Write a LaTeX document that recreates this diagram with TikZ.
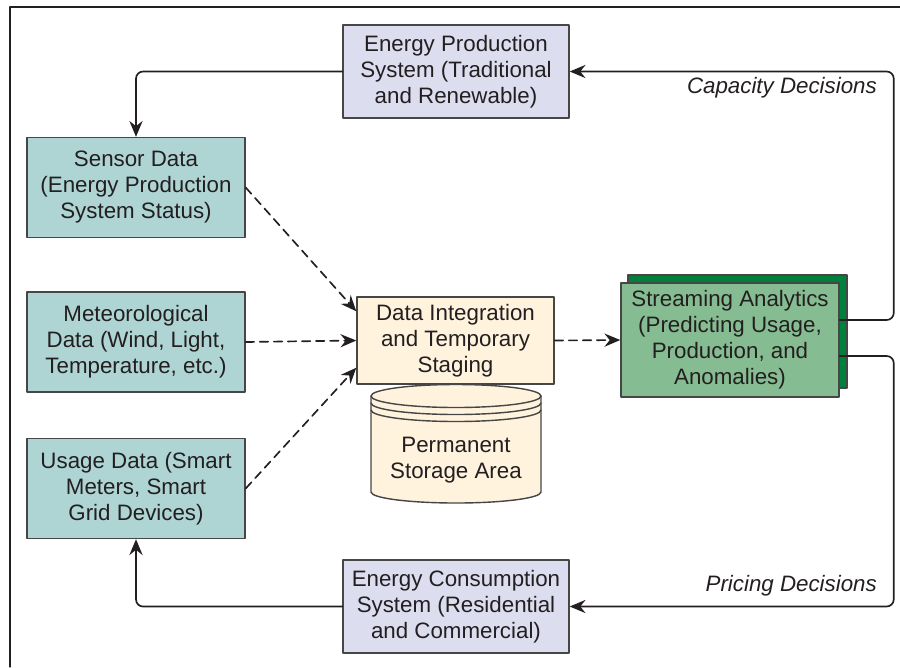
\documentclass[tikz,border=0pt]{standalone}
\usepackage{fontspec}
\setmainfont{Liberation Sans}
\usetikzlibrary{arrows.meta}

\definecolor{txt}{RGB}{35,31,32}
\definecolor{edge}{RGB}{70,70,70}
\definecolor{tealbox}{RGB}{174,212,212}
\definecolor{lilac}{RGB}{221,221,240}
\definecolor{cream}{RGB}{255,243,222}
\definecolor{mint}{RGB}{134,188,145}
\definecolor{forest}{RGB}{0,128,58}

\tikzset{
  box/.style={draw=edge,line width=0.8pt,align=center,inner sep=0pt},
  srcbox/.style={box,fill=tealbox,minimum width=4.36cm,minimum height=2.0cm},
  sysbox/.style={box,fill=lilac,minimum width=4.52cm,minimum height=1.86cm},
  flow/.style={draw=txt,line width=0.95pt,rounded corners=4pt,
    -{Stealth[length=9pt,width=7.5pt,inset=3pt]}},
  feed/.style={flow,dash pattern=on 4.8pt off 3.2pt},
  decision/.style={anchor=east,font=\fontsize{12.7}{14.8}\selectfont\itshape}
}

\begin{document}
\begin{tikzpicture}[x=0.2mm,y=-0.2mm,line cap=round,line join=round,
    every node/.style={font=\fontsize{12.7}{14.8}\selectfont,text=txt}]
  \useasboundingbox (0,0) rectangle (900,667);
  % frame
  \draw[draw=txt,line width=0.7pt] (10,667) -- (10,7) -- (900,7);

  % system boxes
  \node[sysbox] (prod) at (456,71.5) {Energy Production\\System (Traditional\\and Renewable)};
  \node[sysbox] (cons) at (456,606.5) {Energy Consumption\\System (Residential\\and Commercial)};

  % data sources
  \node[srcbox] (sensor) at (136,187.5) {Sensor Data\\(Energy Production\\System Status)};
  \node[srcbox] (meteo) at (136,342) {Meteorological\\Data (Wind, Light,\\Temperature, etc.)};
  \node[srcbox] (usage) at (136,488.5) {Usage Data (Smart\\Meters, Smart\\Grid Devices)};

  % staging and storage
  \node[box,fill=cream,minimum width=3.94cm,minimum height=1.74cm] (integ) at (455.5,340.5)
    {Data Integration\\and Temporary\\Staging};
  \filldraw[fill=cream,draw=edge,line width=0.8pt] (371,396) -- (371,492)
    arc[start angle=180,end angle=0,x radius=85,y radius=11] -- (541,396)
    arc[start angle=0,end angle=-180,x radius=85,y radius=11.5] -- cycle;
  \draw[draw=edge,line width=0.8pt] (371,396) arc[start angle=180,end angle=0,x radius=85,y radius=11.5];
  \draw[draw=edge,line width=0.8pt] (371,403) arc[start angle=180,end angle=0,x radius=85,y radius=11.5];
  \draw[draw=edge,line width=0.8pt] (371,410) arc[start angle=180,end angle=0,x radius=85,y radius=11.5];
  \node[align=center] (store) at (456,460) {Permanent\\Storage Area};

  % analytics
  \filldraw[fill=forest,draw=edge,line width=0.8pt] (628,275) rectangle (847,388);
  \node[box,fill=mint,minimum width=4.36cm,minimum height=2.28cm] (stream) at (730,340)
    {Streaming Analytics\\(Predicting Usage,\\Production, and\\Anomalies)};

  % feeds
  \draw[feed] (sensor.east) -- ([yshift=-0.3cm]integ.north west);
  \draw[feed] (meteo.east) -- (integ.west);
  \draw[feed] (usage.east) -- ([yshift=0.34cm]integ.south west);
  \draw[feed] (integ.east) -- (stream.west);

  % decisions
  \draw[flow] ([yshift=0.4cm]stream.east) -- ++(54,0) |- (prod.east);
  \draw[flow] ([yshift=-0.32cm]stream.east) -- ++(54,0) |- (cons.east);
  \draw[flow] (prod.west) -| (sensor.north);
  \draw[flow] (cons.west) -| (usage.south);
  \node[decision] (capLbl) at (883,88) {Capacity Decisions};
  \node[decision] (priceLbl) at (883,586) {Pricing Decisions};
\end{tikzpicture}
\end{document}
